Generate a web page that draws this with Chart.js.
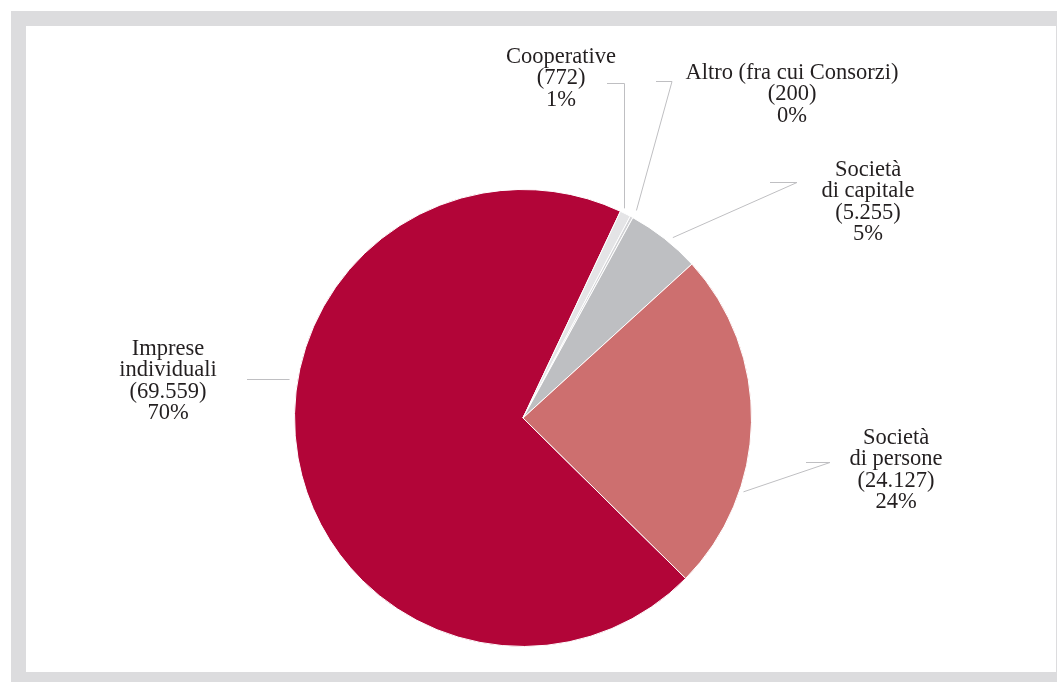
<!DOCTYPE html>
<html lang="it">
<head>
<meta charset="utf-8">
<title>Imprese per forma giuridica</title>
<script src="https://cdn.jsdelivr.net/npm/chart.js@4/dist/chart.umd.min.js"></script>
<style>
    html, body { margin: 0; padding: 0; background: #fff; overflow: hidden; }
    #frame {
        position: absolute;
        left: 11px;
        top: 11px;
        width: 1030px;
        height: 646px;
        border: 15px solid #dcdcde;
        background: #fff;
    }
    #pie { display: block; }
</style>
</head>
<body>
<div id="frame"><canvas id="pie" width="1030" height="646"></canvas></div>
<script>
// forme giuridiche and number of firms
const categories = [
    ['Imprese', 'individuali'],
    ['Cooperative'],
    ['Altro (fra cui Consorzi)'],
    ['Società', 'di capitale'],
    ['Società', 'di persone']
];
const firmCounts = [69559, 772, 200, 5255, 24127];
const sliceColors = ['#b20538', '#e4e4e6', '#d2d2d5', '#bebfc2', '#cd6f6f'];

// where each label sits: text centre, first line y, leader elbow, and where along the slice the leader touches
const labelLayout = [
    { x: 142, y: 323, elbow: [221, 353], end: null, frac: 0.577, gap: 8 },
    { x: 535, y: 31, elbow: [597, 57], end: [581, 57], frac: 0.14, gap: 4 },
    { x: 766, y: 47, elbow: [646, 55], end: [630, 55], frac: 0.9, gap: 8 },
    { x: 842, y: 144, elbow: [771, 156], end: [744, 156], frac: 0.58, gap: 6 },
    { x: 870, y: 412, elbow: [804, 436], end: [780, 436], frac: 0.7, gap: 4 }
];

const total = firmCounts.reduce((a, b) => a + b, 0);

// 69559 -> 69.559
function formatCount(n) {
    return String(n).replace(/\B(?=(\d{3})+(?!\d))/g, '.');
}

const sliceLabels = {
    id: 'sliceLabels',
    afterDraw(chart) {
        const ctx = chart.ctx;
        const arcs = chart.getDatasetMeta(0).data;
        ctx.save();
        ctx.font = '22.5px "Liberation Serif", "Times New Roman", serif';
        ctx.textAlign = 'center';
        ctx.textBaseline = 'middle';
        arcs.forEach((arc, i) => {
            const lay = labelLayout[i];
            // leader line from the rim out to the label
            const a = arc.startAngle + lay.frac * (arc.endAngle - arc.startAngle);
            const r = arc.outerRadius + lay.gap;
            const px = arc.x + Math.cos(a) * r;
            const py = arc.y + Math.sin(a) * r;
            const ly = lay.elbow[1] + 0.5;
            ctx.strokeStyle = '#bfbfc2';
            ctx.lineWidth = 1;
            ctx.beginPath();
            if (i === 0) {
                // straight across to the left label
                ctx.moveTo(px, ly);
                ctx.lineTo(lay.elbow[0], ly);
            } else if (i === 1) {
                // cooperative: straight up from the rim, then left
                ctx.moveTo(Math.round(px) + 0.5, py);
                ctx.lineTo(Math.round(px) + 0.5, ly);
                ctx.lineTo(lay.end[0], ly);
            } else {
                ctx.moveTo(px, py);
                ctx.lineTo(lay.elbow[0], ly);
                ctx.lineTo(lay.end[0], ly);
            }
            ctx.stroke();

            // text lines: name, (count), percent
            const pct = Math.round(firmCounts[i] / total * 100) + '%';
            const lines = categories[i].concat(['(' + formatCount(firmCounts[i]) + ')', pct]);
            ctx.fillStyle = '#231f20';
            lines.forEach((t, k) => {
                ctx.fillText(t, lay.x, lay.y + k * 21.3);
            });
        });
        ctx.restore();
    }
};

const chart = new Chart(document.getElementById('pie').getContext('2d'), {
    type: 'pie',
    data: {
        labels: categories.map(c => c.join(' ')),
        datasets: [{
            data: firmCounts,
            backgroundColor: sliceColors,
            borderColor: '#ffffff',
            borderWidth: 1
        }]
    },
    options: {
        responsive: false,
        animation: false,
        rotation: 134.6,
        layout: { padding: { left: 268, top: 163, right: 304, bottom: 25 } },
        plugins: {
            legend: { display: false },
            tooltip: { enabled: false }
        }
    },
    plugins: [sliceLabels]
});
</script>
</body>
</html>
